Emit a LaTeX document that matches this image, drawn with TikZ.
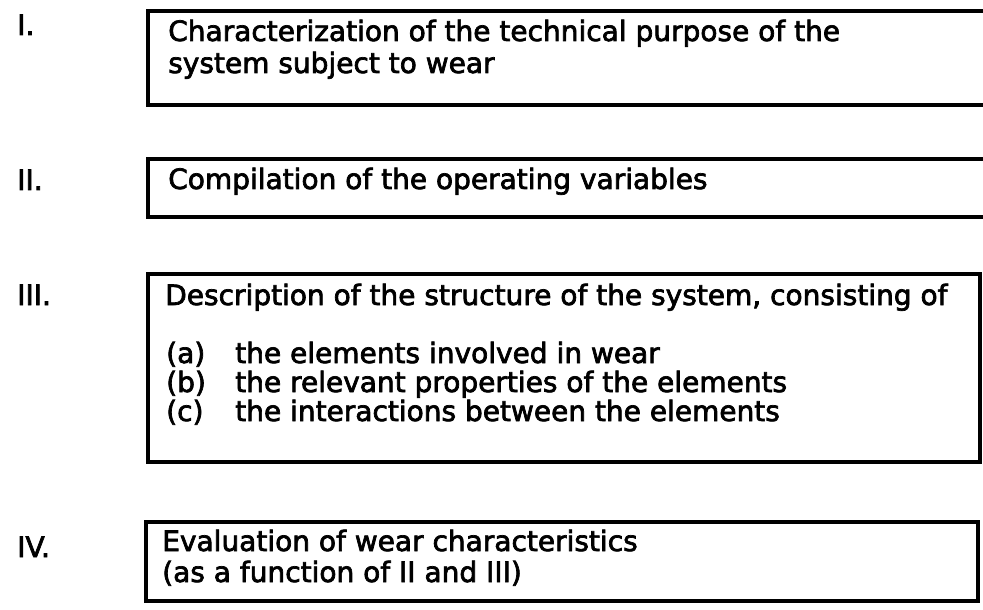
\documentclass[tikz,border=0pt]{standalone}
\usepackage{fontspec}
\setmainfont{DejaVu Sans}[FakeBold=2.5]
\begin{document}
\begin{tikzpicture}[x=0.75pt,y=-0.75pt,
  frame/.style={draw, line width=2.4pt, anchor=north west, inner sep=0pt, outer sep=0pt},
  row/.style={anchor=base west, inner sep=0pt, font=\fontsize{21}{24}\selectfont},
  num/.style={row}]
\useasboundingbox (0,0) rectangle (983,610);
\clip (0,0) rectangle (983,610);

% step numbers
\node[num] (nI)   at (17,35)  {I.};
\node[num] (nII)  at (17,190) {II.};
\node[num] (nIII) at (17,305) {III.};
\node[num] (nIV)  at (17,557) {IV.};

% frames
\node[frame, minimum width=635.25pt, minimum height=70.5pt] (fI)   at (148,11)  {};
\node[frame, minimum width=635.25pt, minimum height=43.5pt] (fII)  at (148,159) {};
\node[frame, minimum width=624pt,    minimum height=141pt]  (fIII) at (148,274) {};
\node[frame, minimum width=624pt,    minimum height=59.25pt] (fIV) at (146,522) {};

% step I
\node[row] (tI1) at (168,41) {Characterization of the technical purpose of the};
\node[row] (tI2) at (168,73) {system subject to wear};

% step II
\node[row] (tII) at (168,189) {Compilation of the operating variables};

% step III
\node[row] (tIII) at (165,305) {Description of the structure of the system, consisting of};
\node[row] (la) at (166,363) {(a)};
\node[row] (ta) at (235,363) {the elements involved in wear};
\node[row] (lb) at (166,392) {(b)};
\node[row] (tb) at (235,392) {the relevant properties of the elements};
\node[row] (lc) at (166,421) {(c)};
\node[row] (tc) at (235,421) {the interactions between the elements};

% step IV
\node[row] (tIV1) at (162,551) {Evaluation of wear characteristics};
\node[row] (tIV2) at (162,582) {(as a function of II and III)};
\end{tikzpicture}
\end{document}
